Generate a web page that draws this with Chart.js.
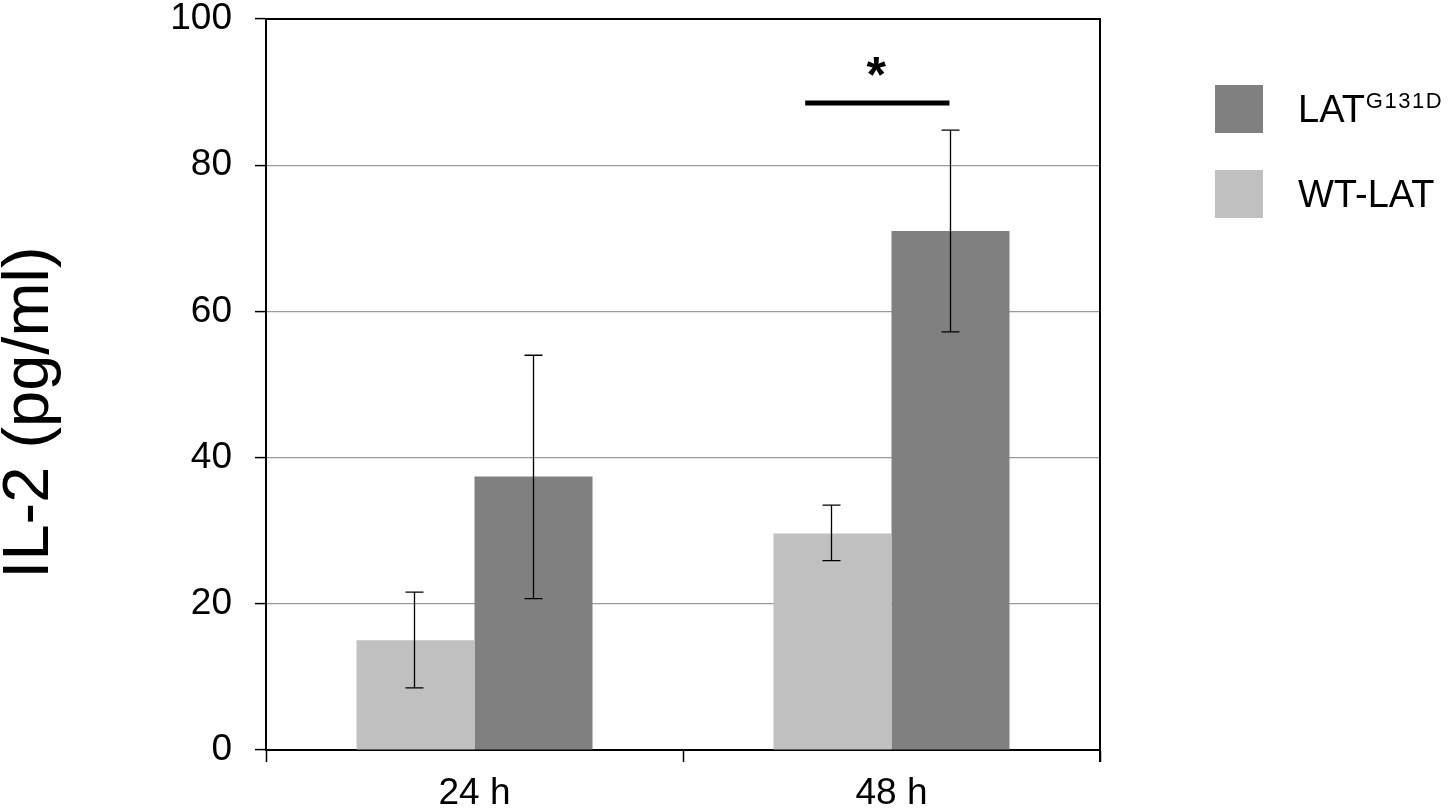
<!DOCTYPE html>
<html>
<head>
<meta charset="utf-8">
<script src="https://cdn.jsdelivr.net/npm/chart.js@4/dist/chart.umd.min.js"></script>
<style>
  html, body { margin: 0; padding: 0; background: #fff; }
  #wrap { width: 1450px; height: 812px; position: relative; }
</style>
</head>
<body>
<div id="wrap"><canvas id="c" width="1450" height="812"></canvas></div>
<script>
const categories = ['24 h', '48 h'];
const wtValues = [15.0, 29.6];
const wtErrLow = [8.5, 25.9];
const wtErrHigh = [21.6, 33.5];
const mutValues = [37.4, 71.0];
const mutErrLow = [20.7, 57.2];
const mutErrHigh = [54.0, 84.8];
const yTicks = [0, 20, 40, 60, 80, 100];
const seriesNames = ['WT-LAT', 'LAT'];
const mutSuperscript = 'G131D';
const yTitle = 'IL-2 (pg/ml)';
const sigLabel = '*';
const sigBar = { fromIndex: 0.793, toIndex: 1.139, value: 88.5 };

const FONT = '"Liberation Sans", Arial, Helvetica, sans-serif';
const LIGHT = '#c0c0c0';
const DARK = '#808080';

const errorBars = {
  id: 'errorBars',
  afterDatasetsDraw(chart) {
    const ctx = chart.ctx, y = chart.scales.y;
    const errs = [[wtErrLow, wtErrHigh], [mutErrLow, mutErrHigh]];
    ctx.save();
    ctx.strokeStyle = '#000';
    ctx.lineWidth = 1.3;
    chart.data.datasets.forEach((ds, di) => {
      const meta = chart.getDatasetMeta(di);
      meta.data.forEach((bar, i) => {
        const x = Math.round(bar.x) - 0.5;
        const yl = y.getPixelForValue(errs[di][0][i]);
        const yh = y.getPixelForValue(errs[di][1][i]);
        ctx.beginPath();
        ctx.moveTo(x, yl); ctx.lineTo(x, yh);
        ctx.moveTo(x - 9, yl); ctx.lineTo(x + 9, yl);
        ctx.moveTo(x - 9, yh); ctx.lineTo(x + 9, yh);
        ctx.stroke();
      });
    });
    ctx.restore();
  }
};

const decorations = {
  id: 'decorations',
  afterDraw(chart) {
    const ctx = chart.ctx, a = chart.chartArea;
    const x = chart.scales.x, y = chart.scales.y;
    ctx.save();
    // top and right frame
    ctx.strokeStyle = '#000';
    ctx.lineWidth = 2;
    ctx.beginPath();
    ctx.moveTo(a.left, a.top); ctx.lineTo(a.right, a.top); ctx.lineTo(a.right, a.bottom + 12);
    ctx.stroke();
    // significance bar
    const sy = y.getPixelForValue(sigBar.value);
    ctx.lineWidth = 5;
    ctx.beginPath();
    ctx.moveTo(x.getPixelForValue(sigBar.fromIndex), sy);
    ctx.lineTo(x.getPixelForValue(sigBar.toIndex), sy);
    ctx.stroke();
    ctx.fillStyle = '#000';
    ctx.font = 'bold 50px ' + FONT;
    ctx.textAlign = 'center';
    ctx.textBaseline = 'alphabetic';
    const sx = (x.getPixelForValue(sigBar.fromIndex) + x.getPixelForValue(sigBar.toIndex)) / 2;
    ctx.fillText(sigLabel, sx - 1, sy - 11);
    // y title
    ctx.save();
    ctx.translate(30, (a.top + a.bottom) / 2 + 28);
    ctx.rotate(-Math.PI / 2);
    ctx.font = '65px ' + FONT;
    ctx.textAlign = 'center';
    ctx.textBaseline = 'middle';
    ctx.fillText(yTitle, 0, 0);
    ctx.restore();
    // legend
    const lx = 1215, box = 48;
    const entries = [
      { color: DARK, name: seriesNames[1], sup: mutSuperscript, top: 85, base: 122 },
      { color: LIGHT, name: seriesNames[0], sup: '', top: 170, base: 207 }
    ];
    entries.forEach(e => {
      ctx.fillStyle = e.color;
      ctx.fillRect(lx, e.top, box, box);
      ctx.fillStyle = '#000';
      ctx.font = '38px ' + FONT;
      ctx.textAlign = 'left';
      ctx.textBaseline = 'alphabetic';
      ctx.fillText(e.name, 1298, e.base);
      if (e.sup) {
        const w = ctx.measureText(e.name).width;
        ctx.font = '22px ' + FONT;
        ctx.letterSpacing = '1.5px';
        ctx.fillText(e.sup, 1298 + w + 1, e.base - 14);
        ctx.letterSpacing = '0px';
      }
    });
    ctx.restore();
  }
};

new Chart(document.getElementById('c'), {
  type: 'bar',
  data: {
    labels: categories,
    datasets: [
      { label: seriesNames[0], data: wtValues, backgroundColor: LIGHT, borderWidth: 0,
        categoryPercentage: 0.566, barPercentage: 1.0 },
      { label: seriesNames[1] + mutSuperscript, data: mutValues, backgroundColor: DARK, borderWidth: 0,
        categoryPercentage: 0.566, barPercentage: 1.0 }
    ]
  },
  options: {
    responsive: false,
    animation: false,
    devicePixelRatio: 1,
    layout: { padding: { top: 19, right: 350, left: 0, bottom: 0 } },
    plugins: { legend: { display: false }, tooltip: { enabled: false } },
    scales: {
      x: {
        offset: true,
        grid: { offset: true, drawOnChartArea: false, drawTicks: true, tickLength: 12, tickColor: '#000', tickWidth: 1.5 },
        border: { display: true, color: '#000', width: 2 },
        ticks: { color: '#000', font: { family: FONT, size: 37 }, padding: 10 },
        afterFit(s) { s.height = 62; s.paddingLeft = 0; s.paddingRight = 0; }
      },
      y: {
        min: 0, max: 100,
        afterBuildTicks(s) { s.ticks = yTicks.map(v => ({ value: v })); },
        grid: { color: '#9a9a9a', lineWidth: 1.2, tickLength: 11, tickColor: '#000', tickWidth: 1.5 },
        border: { display: true, color: '#000', width: 2 },
        ticks: { color: '#000', font: { family: FONT, size: 37 }, padding: 23 },
        afterFit(s) { s.width = 266; s.paddingTop = 0; s.paddingBottom = 0; }
      }
    }
  },
  plugins: [errorBars, decorations]
});
</script>
</body>
</html>
